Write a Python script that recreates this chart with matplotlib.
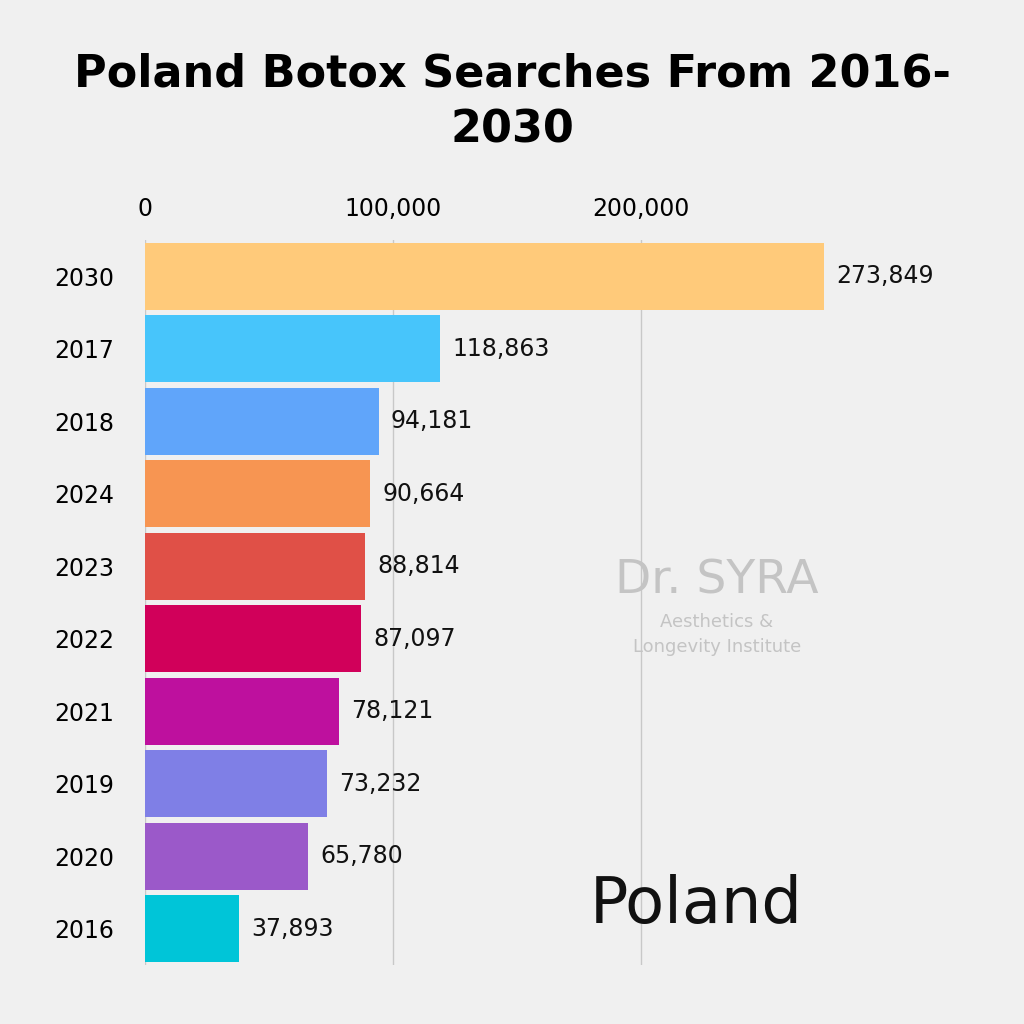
import matplotlib.pyplot as plt

years = ['2030', '2017', '2018', '2024', '2023', '2022', '2021', '2019', '2020', '2016']
values = [273849, 118863, 94181, 90664, 88814, 87097, 78121, 73232, 65780, 37893]
colors = ['#FFCA7A', '#47C5FB', '#60A5FA', '#F79552', '#E05047',
          '#D1005A', '#BE109E', '#7F7FE6', '#9B59C9', '#00C5D8']

bg = '#f0f0f0'
fig = plt.figure(figsize=(10.24, 10.24), dpi=100, facecolor=bg)
ax = fig.add_axes([0.1416, 0.0576, 0.835, 0.708], facecolor=bg)

pos = list(range(len(years)))
ax.barh(pos, values, height=0.93, color=colors, zorder=2)
for p, v in zip(pos, values):
    ax.text(v + 5000, p, f'{v:,}', va='center', ha='left', fontsize=17, color='#111111')

ax.set_xlim(0, 344758)
ax.set_ylim(len(years) - 0.5, -0.5)
ax.set_yticks(pos)
ax.set_yticklabels(years, fontsize=17)
ax.set_xticks([0, 100000, 200000])
ax.set_xticklabels(['0', '100,000', '200,000'], fontsize=17)
ax.xaxis.tick_top()
ax.tick_params(length=0, pad=14)
ax.tick_params(axis='y', pad=22)
ax.grid(axis='x', color='#c8c8c8', linewidth=1, zorder=0)
for s in ax.spines.values():
    s.set_visible(False)

fig.text(0.5, 0.928, 'Poland Botox Searches From 2016-', ha='center', va='center',
         fontsize=32, fontweight='bold')
fig.text(0.5, 0.873, '2030', ha='center', va='center', fontsize=32, fontweight='bold')

fig.text(0.70, 0.433, 'Dr. SYRA', ha='center', va='center', fontsize=34, color='#c4c4c4')
fig.text(0.70, 0.393, 'Aesthetics &', ha='center', va='center', fontsize=13, color='#c4c4c4')
fig.text(0.70, 0.368, 'Longevity Institute', ha='center', va='center', fontsize=13, color='#c4c4c4')
fig.text(0.68, 0.116, 'Poland', ha='center', va='center', fontsize=46, color='#111111')

fig.savefig('out.png', dpi=100, facecolor=bg)
